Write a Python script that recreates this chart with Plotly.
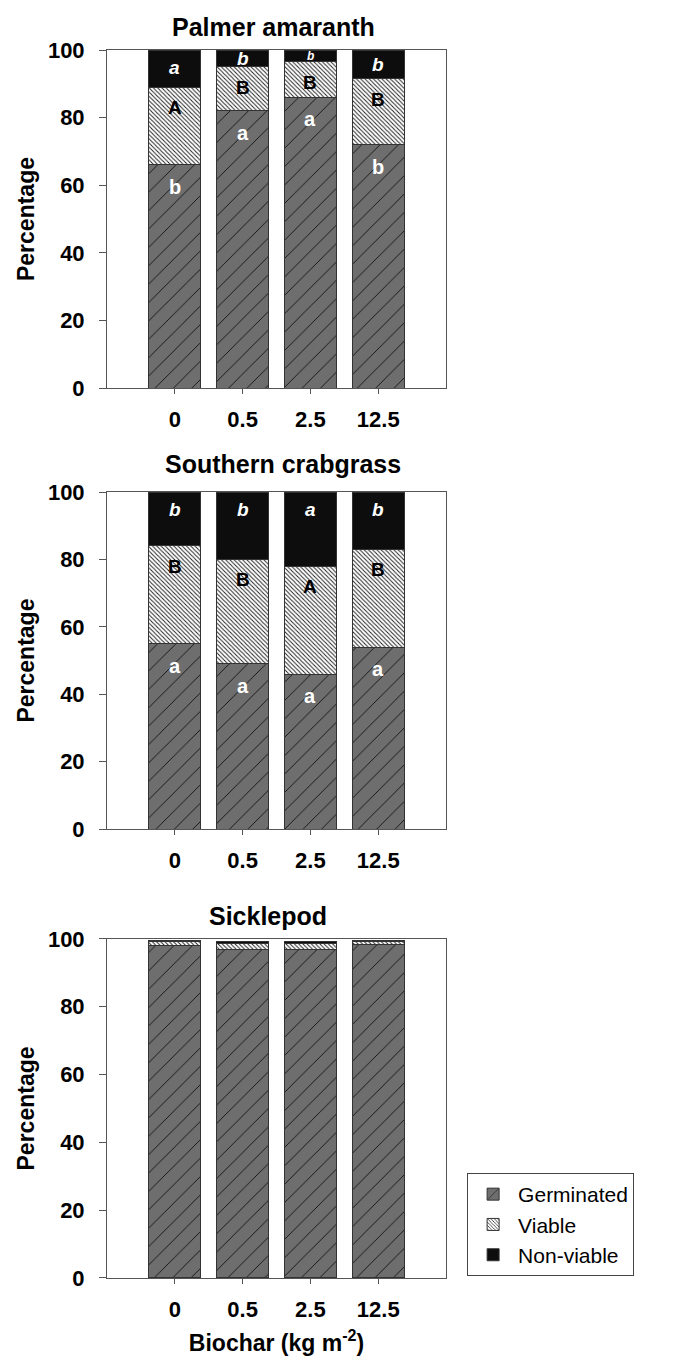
import plotly.graph_objects as go

# ---------------- data ----------------
doses = ["0", "0.5", "2.5", "12.5"]

panel_titles = ["Palmer amaranth", "Southern crabgrass", "Sicklepod"]

pa_germ = [66, 82, 86, 72]
pa_viable = [23, 13, 10.5, 19.5]
pa_nonviable = [11, 5, 3.5, 8.5]

sc_germ = [55, 49, 46, 54]
sc_viable = [29, 31, 32, 29]
sc_nonviable = [16, 20, 22, 17]

sp_germ = [98, 97, 97, 98.3]
sp_viable = [1.1, 1.6, 1.6, 0.8]
sp_nonviable = [0.4, 0.5, 0.5, 0.4]

pa_germ_letters = ["b", "a", "a", "b"]
pa_viable_letters = ["A", "B", "B", "B"]
pa_nonviable_letters = ["a", "b", "b", "b"]

sc_germ_letters = ["a", "a", "a", "a"]
sc_viable_letters = ["B", "B", "A", "B"]
sc_nonviable_letters = ["b", "b", "a", "b"]

y_ticks = [0, 20, 40, 60, 80, 100]

# ---------------- styling ----------------
FONT = "Liberation Sans, Arial, sans-serif"
x_dom = [0.1583, 0.6598]
y_doms = [[0.7147, 0.9632], [0.3904, 0.6382], [0.0603, 0.3096]]
title_pos = [(0.404, 0.9800), (0.419, 0.6585), (0.396, 0.3265)]

germ_style = dict(color="#6e6e6e",
                  pattern=dict(shape="/", size=13, solidity=0.07,
                               fgcolor="#111111", bgcolor="#6e6e6e",
                               fillmode="replace"),
                  line=dict(color="#333333", width=1))
viable_style = dict(color="white",
                    pattern=dict(shape="\\", size=3, solidity=0.33,
                                 fgcolor="#222222", bgcolor="white",
                                 fillmode="replace"),
                    line=dict(color="#333333", width=1))
nonviable_style = dict(color="#0d0d0d", line=dict(color="#333333", width=1))

panels = [
    (pa_germ, pa_viable, pa_nonviable, pa_germ_letters, pa_viable_letters, pa_nonviable_letters),
    (sc_germ, sc_viable, sc_nonviable, sc_germ_letters, sc_viable_letters, sc_nonviable_letters),
    (sp_germ, sp_viable, sp_nonviable, None, None, None),
]

fig = go.Figure()
annotations = []
BW = 0.77

for i, (g, v, n, gl, vl, nl) in enumerate(panels):
    xa = "x" if i == 0 else f"x{i+1}"
    ya = "y" if i == 0 else f"y{i+1}"
    show = (i == 2)
    fig.add_trace(go.Bar(x=doses, y=g, name="Germinated", marker=germ_style,
                         width=BW, xaxis=xa, yaxis=ya, showlegend=show,
                         legendgroup="g"))
    fig.add_trace(go.Bar(x=doses, y=v, name="Viable", marker=viable_style,
                         width=BW, xaxis=xa, yaxis=ya, showlegend=show,
                         legendgroup="v"))
    fig.add_trace(go.Bar(x=doses, y=n, name="Non-viable", marker=nonviable_style,
                         width=BW, xaxis=xa, yaxis=ya, showlegend=show,
                         legendgroup="n"))
    if gl:
        for j, d in enumerate(doses):
            gtop = g[j]
            vtop = g[j] + v[j]
            annotations.append(dict(x=j, y=gtop - 6.5, xref=xa, yref=ya,
                                    text=gl[j], showarrow=False,
                                    font=dict(family=FONT, size=20, color="white", weight=700)))
            annotations.append(dict(x=j, y=vtop - 6, xref=xa, yref=ya,
                                    text=vl[j], showarrow=False,
                                    font=dict(family=FONT, size=19, color="black", weight=700)))
            nsz = 12 if n[j] < 4 else 19
            ny = max((vtop + 100) / 2, 94.7)
            annotations.append(dict(x=j, y=ny, xref=xa, yref=ya,
                                    text=nl[j], showarrow=False,
                                    font=dict(family=FONT, size=nsz, color="white",
                                              weight=700, style="italic")))
    tx, ty = title_pos[i]
    annotations.append(dict(x=tx, y=ty, xref="paper", yref="paper",
                            text=panel_titles[i], showarrow=False,
                            xanchor="center", yanchor="middle",
                            font=dict(family=FONT, size=25, color="black", weight=700)))

axis_common = dict(showline=True, linecolor="#555555", linewidth=1, mirror=True,
                   showgrid=False, zeroline=False, automargin=False,
                   tickfont=dict(family=FONT, size=22, color="black", weight=700),
                   ticks="outside", tickcolor="#555555")

layout = dict(width=676, height=1360,
              margin=dict(l=0, r=0, t=0, b=0, pad=0, autoexpand=False),
              paper_bgcolor="white", plot_bgcolor="white",
              barmode="stack", annotations=annotations,
              legend=dict(x=0.691, y=0.1375, xanchor="left", yanchor="top",
                          bordercolor="#444444", borderwidth=1,
                          font=dict(family=FONT, size=21, color="black"),
                          traceorder="normal", itemwidth=40,
                          entrywidth=200, entrywidthmode="pixels",
                          tracegroupgap=0))

for i in range(3):
    xk = "xaxis" if i == 0 else f"xaxis{i+1}"
    yk = "yaxis" if i == 0 else f"yaxis{i+1}"
    ya = "y" if i == 0 else f"y{i+1}"
    xa = "x" if i == 0 else f"x{i+1}"
    xax = dict(axis_common, domain=x_dom, anchor=ya, type="category",
               range=[-1, 4], ticklen=5, ticklabelstandoff=7)
    if i == 2:
        xax["title"] = dict(text="Biochar (kg m<sup>-2</sup>)", standoff=13,
                            font=dict(family=FONT, size=23, color="black", weight=700))
    yax = dict(axis_common, domain=y_doms[i], anchor=xa, range=[0, 100],
               tickvals=y_ticks, ticklen=7, ticklabelstandoff=10,
               title=dict(text="Percentage", standoff=6,
                          font=dict(family=FONT, size=23, color="black", weight=700)))
    layout[xk] = xax
    layout[yk] = yax

fig.update_layout(**layout)
fig.write_html("out.html", config={"displayModeBar": False},
               post_script="document.body.style.margin='0';")
